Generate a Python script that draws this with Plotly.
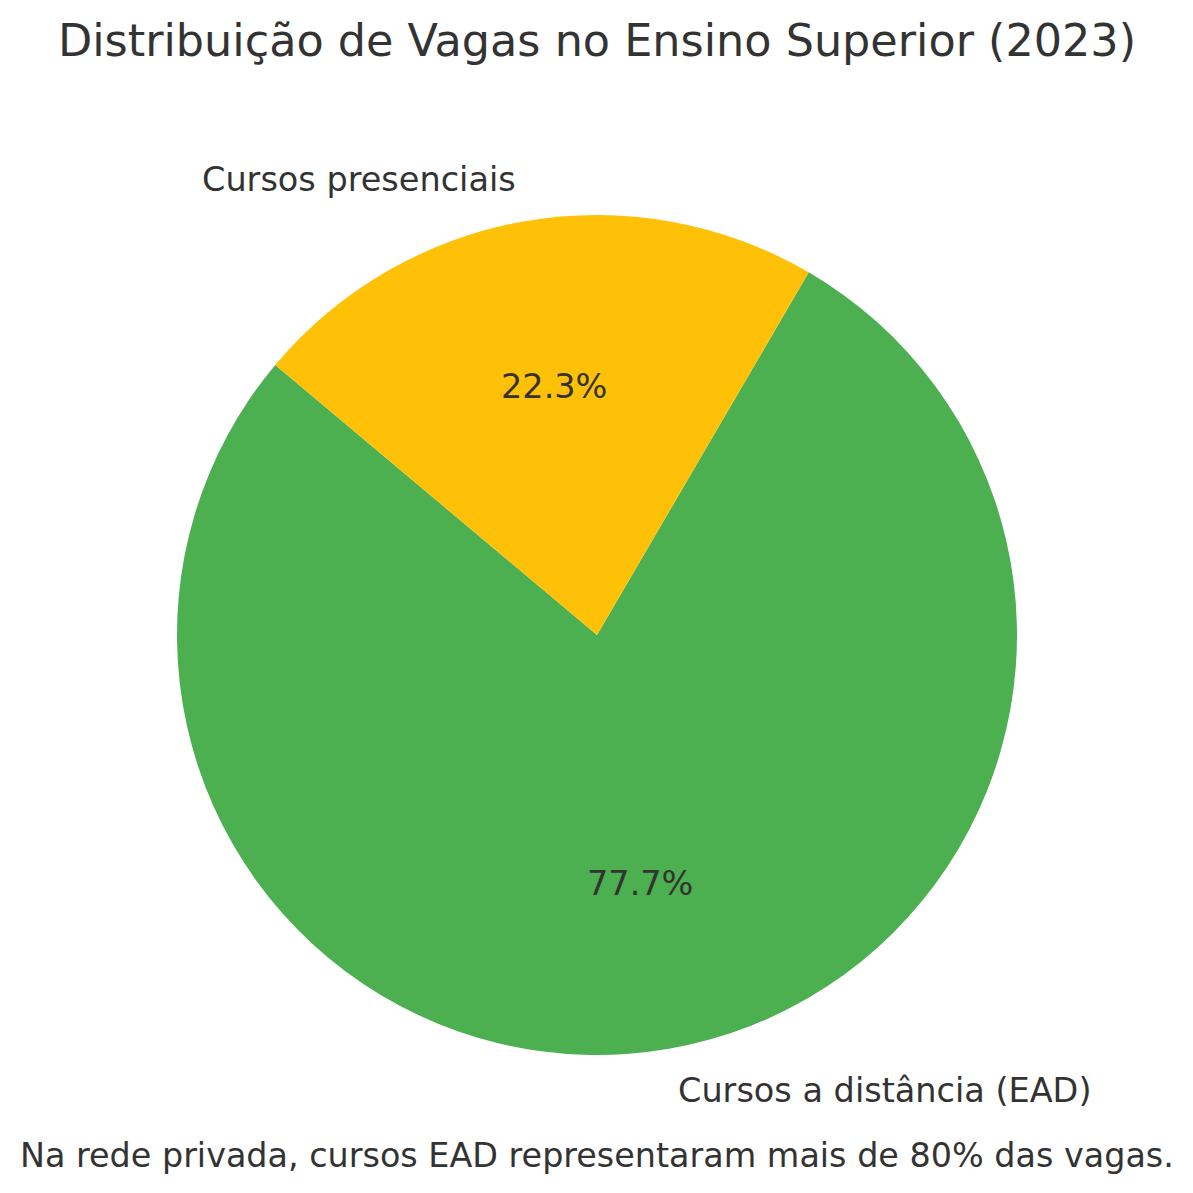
import math
import plotly.graph_objects as go

# Data
labels = ["Cursos a distância (EAD)", "Cursos presenciais"]
values = [77.7, 22.3]
colors = ["#4CAF50", "#FFC107"]
title_text = "Distribuição de Vagas no Ensino Superior (2023)"
footer_text = "Na rede privada, cursos EAD representaram mais de 80% das vagas."
start_angle = 140  # degrees, math convention, counterclockwise

W = H = 1193
CX, CY, R = 597, 635, 420  # pixels
FONT = "DejaVu Sans"
TXT = "#333333"

total = sum(values)
# plotly: rotation measured clockwise from 12 o'clock; with "counterclockwise" the first
# slice occupies [rotation, rotation + span] clockwise
first_span = 360 * values[0] / total
rotation = (90 - start_angle - first_span) % 360

fig = go.Figure(go.Pie(
    labels=labels, values=values, sort=False,
    direction="counterclockwise", rotation=rotation,
    marker=dict(colors=colors, line=dict(width=0)),
    textinfo="none", hoverinfo="label+percent", showlegend=False,
    domain=dict(x=[(CX - R) / W, (CX + R) / W], y=[1 - (CY + R) / H, 1 - (CY - R) / H]),
))

annotations = []
ang = start_angle
for lab, v in zip(labels, values):
    span = 360 * v / total
    mid = math.radians(ang + span / 2)
    ang += span
    c, s = math.cos(mid), math.sin(mid)
    annotations.append(dict(
        x=(CX + 0.6 * R * c) / W, y=1 - (CY - 0.6 * R * s) / H,
        xref="paper", yref="paper", text=f"{100 * v / total:.1f}%",
        showarrow=False, xanchor="center", yanchor="middle",
        font=dict(family=FONT, size=33.5, color=TXT)))
    annotations.append(dict(
        x=(CX + 1.1 * R * c) / W, y=1 - (CY - 1.1 * R * s) / H,
        xref="paper", yref="paper", text=lab,
        showarrow=False, xanchor="left" if c > 0 else "right", yanchor="middle",
        font=dict(family=FONT, size=33.5, color=TXT)))

annotations.append(dict(
    x=597 / W, y=1 - 1155 / H, xref="paper", yref="paper", text=footer_text,
    showarrow=False, xanchor="center", yanchor="middle",
    font=dict(family=FONT, size=33.4, color=TXT)))

fig.update_layout(
    width=W, height=H, margin=dict(l=0, r=0, t=0, b=0),
    paper_bgcolor="white", plot_bgcolor="white",
    title=dict(text=title_text, x=597 / W, xanchor="center", y=1 - 40 / H, yanchor="middle",
               font=dict(family=FONT, size=44.5, color=TXT)),
    annotations=annotations,
)

fig.write_html("out.html", config={"displayModeBar": False},
               post_script="document.body.style.margin='0';")
